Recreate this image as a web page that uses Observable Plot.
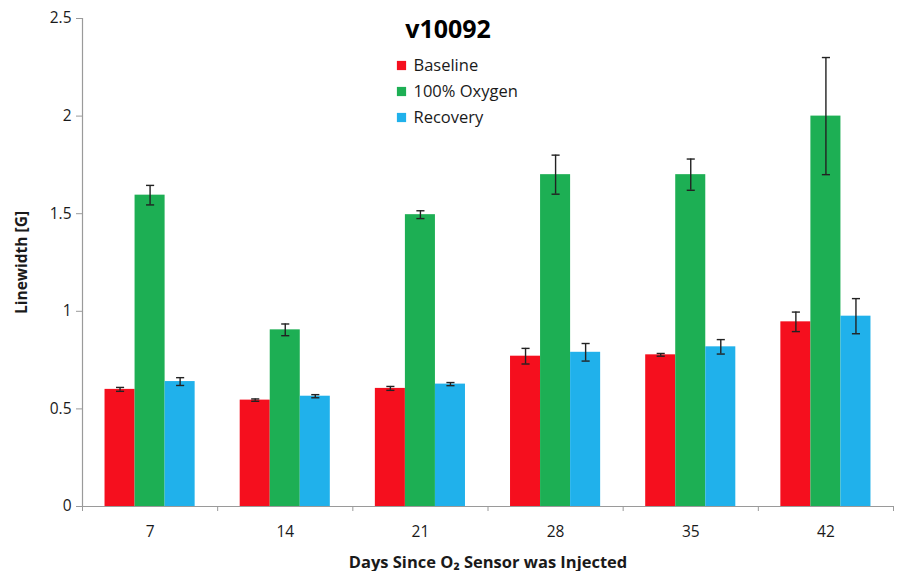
<!DOCTYPE html>
<html>
<head>
<meta charset="utf-8">
<script src="https://cdn.jsdelivr.net/npm/d3@7"></script>
<script src="https://cdn.jsdelivr.net/npm/@observablehq/plot@0.6"></script>
<style>
  html, body { margin: 0; padding: 0; background: #fff; }
  #chart { width: 901px; height: 571px; }
  svg { font-family: "Open Sans", sans-serif; }
</style>
</head>
<body>
<div id="chart"></div>
<script>
// ---- data ----
const days = [7, 14, 21, 28, 35, 42];
const series = ["Baseline", "100% Oxygen", "Recovery"];
const colors = ["#F50F1E", "#1DAF54", "#20B1EB"];
const baseline = [0.60, 0.545, 0.605, 0.77, 0.777, 0.946];
const baselineErr = [0.01, 0.006, 0.01, 0.04, 0.007, 0.05];
const oxygen = [1.595, 0.905, 1.495, 1.70, 1.70, 2.0];
const oxygenErr = [0.05, 0.03, 0.02, 0.10, 0.08, 0.30];
const recovery = [0.64, 0.565, 0.627, 0.79, 0.818, 0.975];
const recoveryErr = [0.02, 0.008, 0.008, 0.045, 0.037, 0.09];
const yTicks = [0, 0.5, 1, 1.5, 2, 2.5];
const title = "v10092";
const xLabel = "Days Since O\u2082 Sensor was Injected";
const yLabel = "Linewidth [G]";

// ---- table ----
const values = [baseline, oxygen, recovery];
const errs = [baselineErr, oxygenErr, recoveryErr];
const groupPad = 1 / 6, barW = 2 / 9, cap = 0.03;
const rows = [];
days.forEach((day, gi) => {
  series.forEach((s, si) => {
    const x1 = gi + groupPad + si * barW;
    rows.push({day, gi, series: s, value: values[si][gi], err: errs[si][gi],
      x1, x2: x1 + barW, xc: x1 + barW / 2});
  });
});

const axisColor = "#9a9a9a";
const textColor = "#1a1a1a";

const legendMarks = series.flatMap((s, i) => [
  Plot.dot([s], {frameAnchor: "top-left", dx: 319, dy: 47 + 26 * i, symbol: "square", r: 5.2, fill: d => d, stroke: "none"}),
  Plot.text([s], {frameAnchor: "top-left", dx: 331, dy: 47 + 26 * i, text: d => d, textAnchor: "start", lineAnchor: "middle", fontSize: 16.5, fill: textColor})
]);

const chart = Plot.plot({
  width: 901,
  height: 571,
  marginLeft: 82,
  marginRight: 8,
  marginTop: 18,
  marginBottom: 65,
  x: {domain: [0, days.length], axis: null},
  y: {domain: [0, 2.5], axis: null},
  color: {domain: series, range: colors},
  marks: [
    Plot.rectY(rows, {x1: "x1", x2: "x2", y: "value", fill: "series"}),
    Plot.ruleX(rows, {x: "xc", y1: d => d.value - d.err, y2: d => d.value + d.err, stroke: "#222", strokeWidth: 1.4}),
    Plot.link(rows, {x1: d => d.xc - cap, x2: d => d.xc + cap, y1: d => d.value + d.err, y2: d => d.value + d.err, stroke: "#222", strokeWidth: 1.4}),
    Plot.link(rows, {x1: d => d.xc - cap, x2: d => d.xc + cap, y1: d => d.value - d.err, y2: d => d.value - d.err, stroke: "#222", strokeWidth: 1.4}),
    // axes
    Plot.ruleY([0], {stroke: axisColor, strokeWidth: 1.2}),
    Plot.ruleX([0], {stroke: axisColor, strokeWidth: 1.2}),
    Plot.axisY({ticks: yTicks, tickFormat: d => String(d), tickSize: 6, stroke: axisColor, fontSize: 15.5, fill: textColor, tickPadding: 5, label: null}),
    Plot.axisX({ticks: d3.range(days.length + 1), tickFormat: () => "", tickSize: 5, stroke: axisColor, label: null}),
    Plot.axisX({ticks: days.map((d, i) => i + 0.5), tickFormat: (d) => String(days[Math.floor(d)]), tickSize: 0, tickPadding: 19, fontSize: 15.5, fill: textColor, label: null}),
    Plot.text([yLabel], {frameAnchor: "left", dx: -60, rotate: -90, textAnchor: "middle", text: d => d, fontSize: 15.5, fontWeight: "bold", fill: textColor}),
    Plot.text([xLabel], {frameAnchor: "bottom", dy: 61, text: d => d, fontSize: 16.5, fontWeight: "bold", fill: textColor}),
    Plot.text([title], {frameAnchor: "top", dx: -40, dy: 11, text: d => d, fontSize: 25, fontWeight: "bold", fill: "#000", lineAnchor: "middle"}),
    ...legendMarks
  ]
});
document.getElementById("chart").appendChild(chart);
</script>
</body>
</html>
